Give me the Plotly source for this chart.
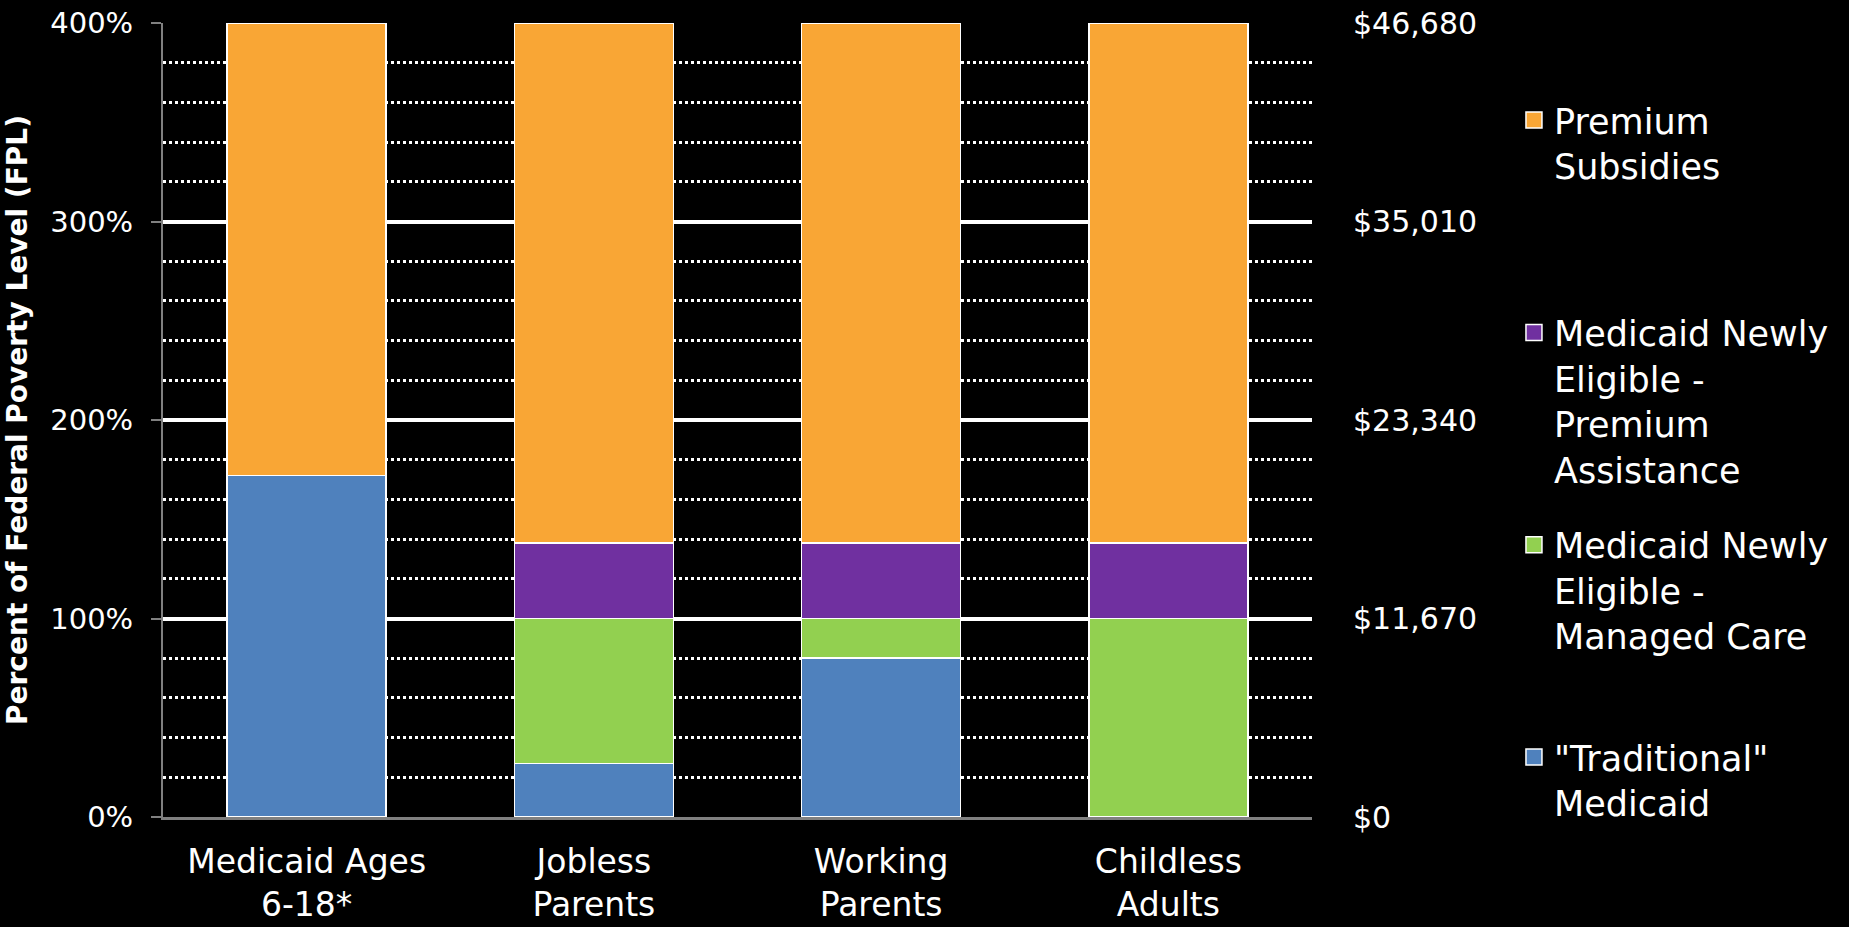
import plotly.graph_objects as go

categories = ["Medicaid Ages<br>6-18*", "Jobless<br>Parents", "Working<br>Parents", "Childless<br>Adults"]
traditional = [172, 27, 80, 0]
managed_care = [0, 73, 20, 100]
premium_assistance = [0, 38, 38, 38]
premium_subsidies = [228, 262, 262, 262]

series_names = ['"Traditional"<br>Medicaid', "Medicaid Newly<br>Eligible -<br>Managed Care",
                "Medicaid Newly<br>Eligible -<br>Premium<br>Assistance", "Premium<br>Subsidies"]
series_values = [traditional, managed_care, premium_assistance, premium_subsidies]
colors = ["#4F81BD", "#92D050", "#7030A0", "#F9A635"]

pct_ticks = [0, 100, 200, 300, 400]
pct_labels = ["0%", "100%", "200%", "300%", "400%"]
dollar_ticks = [0, 11670, 23340, 35010, 46680]
dollar_labels = ["$0", "$11,670", "$23,340", "$35,010", "$46,680"]

FONT = "DejaVu Sans"

fig = go.Figure()
for name, vals, col in zip(series_names, series_values, colors):
    fig.add_trace(go.Bar(x=categories, y=vals, name=name, marker=dict(color=col, line=dict(color="white", width=1.5)),
                         showlegend=False))

legend_ids = ["legend4", "legend3", "legend2", "legend"]
for name, col, lid in zip(series_names, colors, legend_ids):
    fig.add_trace(go.Scatter(x=[None], y=[None], mode="markers", name=name, yaxis="y2", legend=lid,
                             marker=dict(symbol="square", size=18, color=col, line=dict(color="white", width=1.5))))

leg_y = {"legend": 0.902, "legend2": 0.673, "legend3": 0.444, "legend4": 0.215}
legend_common = dict(xref="container", yref="container", x=0.8188, xanchor="left", yanchor="top",
                     valign="top", bgcolor="rgba(0,0,0,0)", font=dict(family=FONT, size=35, color="white"),
                     itemsizing="trace")

fig.update_layout(
    width=1849, height=927,
    paper_bgcolor="black", plot_bgcolor="black",
    barmode="stack", bargap=0.447,
    margin=dict(l=163, r=537, t=23, b=110, autoexpand=False),
    font=dict(family=FONT, color="white"),
    xaxis=dict(tickfont=dict(size=33, color="white"), showgrid=False, showline=True, automargin=False,
               linecolor="#808080", linewidth=3, ticks="", ticklabelstandoff=13),
    yaxis=dict(range=[0, 400], tickvals=pct_ticks, ticktext=pct_labels, automargin=False,
               tickfont=dict(size=29, color="white"), showgrid=True, gridcolor="white", gridwidth=4,
               zeroline=False, showline=True, linecolor="#808080", linewidth=2,
               ticks="outside", ticklen=10, tickcolor="#808080", tickwidth=2, ticklabelstandoff=12,
               minor=dict(dtick=20, showgrid=True, gridcolor="white", gridwidth=2.5, griddash="3px,3px", ticks=""),
               title=dict(text="<b>Percent of Federal Poverty Level (FPL)</b>", font=dict(size=28, color="white"),
                          standoff=14)),
    yaxis2=dict(overlaying="y", side="right", range=[0, 46680], tickvals=dollar_ticks, ticktext=dollar_labels,
                tickfont=dict(size=30, color="white"), showgrid=False, zeroline=False, showline=False,
                automargin=False, ticks="", ticklabelstandoff=40),
    legend=dict(y=leg_y["legend"], **legend_common),
    legend2=dict(y=leg_y["legend2"], **legend_common),
    legend3=dict(y=leg_y["legend3"], **legend_common),
    legend4=dict(y=leg_y["legend4"], **legend_common),
)

fig.write_html("out.html")
